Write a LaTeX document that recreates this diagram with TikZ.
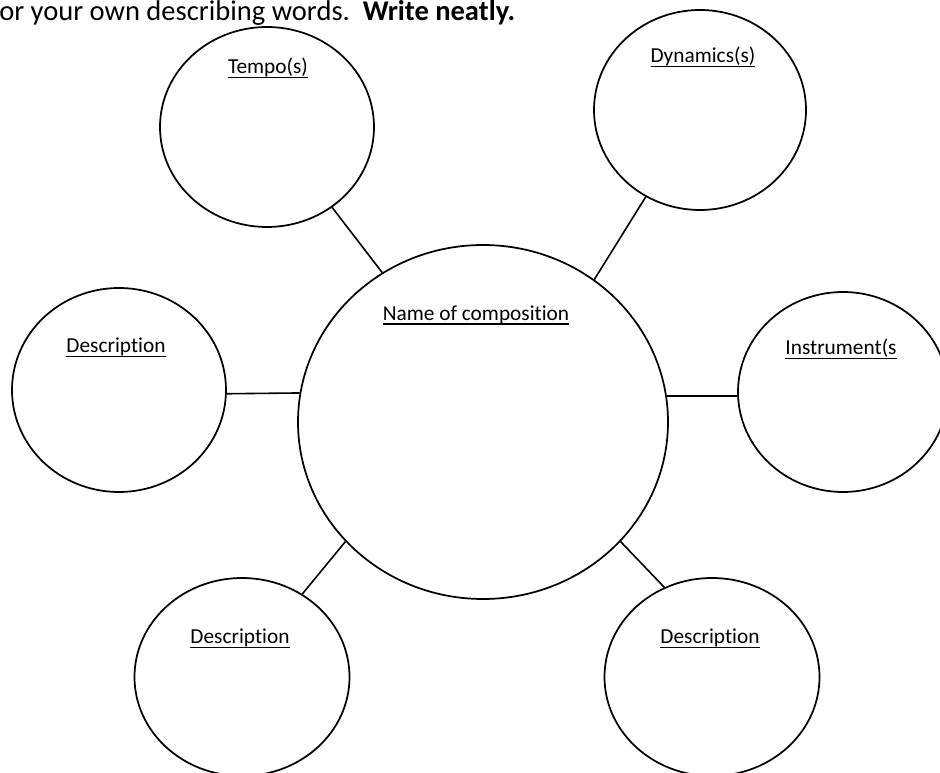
\documentclass[tikz,border=0pt]{standalone}
\usepackage{fontspec}
\setmainfont{Carlito}[Ligatures=NoCommon]
\usetikzlibrary{shapes.geometric}
\newcommand{\ulabel}[1]{\setbox0=\hbox{#1}\rlap{\vrule height -2.1pt depth 3.2pt width \wd0}\box0}
\begin{document}
\begin{tikzpicture}[x=0.75pt,y=-0.75pt,
  bubble/.style={ellipse,draw,line width=1.3pt,inner sep=0pt},
  tag/.style={anchor=base,inner sep=0pt,font=\fontsize{16}{19}\selectfont},
  spoke/.style={line width=1.2pt}]
\useasboundingbox (0,0) rectangle (940,773);
\node[anchor=base west,inner sep=0pt,font=\fontsize{21.4}{25}\selectfont] (head) at (-1,20.5) {or your own describing words.\hspace{0.45em}\textbf{Write neatly.}};
% bubbles
\node[bubble,minimum width=277.5pt,minimum height=265.5pt] (comp) at (483,422) {};
\node[bubble,minimum width=160.5pt,minimum height=150pt] (tempo) at (267,127) {};
\node[bubble,minimum width=159pt,minimum height=150pt] (dyn) at (700,110) {};
\node[bubble,minimum width=157.5pt,minimum height=150pt] (instr) at (843,392) {};
\node[bubble,minimum width=160.5pt,minimum height=153pt] (descl) at (119,390) {};
\node[bubble,minimum width=161.25pt,minimum height=148.5pt] (descbl) at (242,677) {};
\node[bubble,minimum width=161.25pt,minimum height=148.5pt] (descbr) at (712,677) {};
% headings
\node[tag] (comp-t) at (476,320.5) {\ulabel{Name of composition}};
\node[tag] (tempo-t) at (268,74) {\ulabel{Tempo(s)}};
\node[tag] (dyn-t) at (703,63) {\ulabel{Dynamics(s)}};
\node[tag] (instr-t) at (841,355) {\ulabel{Instrument(s}};
\node[tag] (descl-t) at (116,353) {\ulabel{Description}};
\node[tag] (descbl-t) at (240,644) {\ulabel{Description}};
\node[tag] (descbr-t) at (710,644) {\ulabel{Description}};
% spokes
\draw[spoke] (tempo.-51.6) -- (comp.124.7);
\draw[spoke] (dyn.238.9) -- (comp.52.1);
\draw[spoke] (comp.8) -- (comp.8 -| instr.west);
\draw[spoke] (descl.-2.1) -- (comp.171.9);
\draw[spoke] (descbl.54.8) -- (comp.221.9);
\draw[spoke] (descbr.118.8) -- (comp.319.4);
\end{tikzpicture}
\end{document}
